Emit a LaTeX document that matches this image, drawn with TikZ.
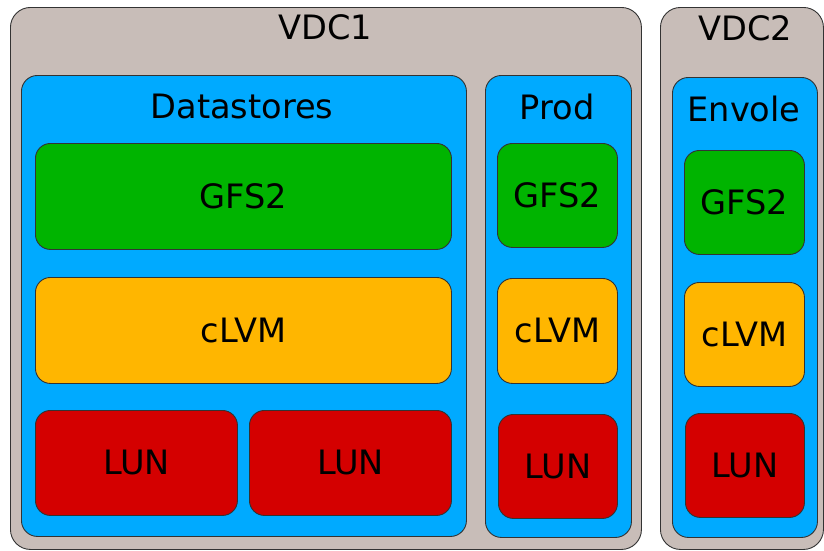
\documentclass[tikz,border=0pt]{standalone}
\usepackage{fontspec}
\setmainfont{DejaVu Sans}
\definecolor{vdcgray}{HTML}{C8BDB8}
\definecolor{dsblue}{HTML}{00AAFF}
\definecolor{gfsgreen}{HTML}{00B400}
\definecolor{lvmorange}{HTML}{FFB600}
\definecolor{lunred}{HTML}{D40000}
\definecolor{edge}{HTML}{333333}
\tikzset{
  boxbase/.style={draw=edge, line width=0.9pt, inner sep=0pt, anchor=north west},
  vdcbox/.style={boxbase, fill=vdcgray, rounded corners=20pt},
  dsbox/.style={boxbase, fill=dsblue, rounded corners=16pt},
  gfsbox/.style={boxbase, fill=gfsgreen, rounded corners=15pt},
  lvmbox/.style={boxbase, fill=lvmorange, rounded corners=15pt},
  lunbox/.style={boxbase, fill=lunred, rounded corners=15pt},
  lbl/.style={inner sep=0pt, font=\fontsize{33.6}{38}\selectfont, text=black}
}
\begin{document}
\begin{tikzpicture}[x=1pt, y=-1pt]
\useasboundingbox (0,0) rectangle (824,550);
% VDC1
\node[vdcbox, minimum width=631pt, minimum height=542pt] (vdc1) at (10,7) {};
\node[lbl] (vdc1-t) at (325,27) {VDC1};
% VDC2
\node[vdcbox, minimum width=163pt, minimum height=542pt] (vdc2) at (660,7) {};
\node[lbl] (vdc2-t) at (745,28) {VDC2};
% Datastores
\node[dsbox, minimum width=445pt, minimum height=461pt] (ds) at (21,75) {};
\node[lbl] (ds-t) at (242,106.5) {Datastores};
% Prod
\node[dsbox, minimum width=146pt, minimum height=462pt] (prod) at (485,75) {};
\node[lbl] (prod-t) at (557,107) {Prod};
% Envole
\node[dsbox, minimum width=145pt, minimum height=460pt] (env) at (672,77) {};
\node[lbl] (env-t) at (744,108.5) {Envole};
% Datastores content
\node[gfsbox, minimum width=416pt, minimum height=106pt] (dgfs) at (35,143) {};
\node[lbl] (dgfs-t) at (dgfs.center) {GFS2};
\node[lvmbox, minimum width=416pt, minimum height=106pt] (dlvm) at (35,277) {};
\node[lbl] (dlvm-t) at (dlvm.center) {cLVM};
\node[lunbox, minimum width=202pt, minimum height=105pt] (dlun1) at (35,410) {};
\node[lbl] (dlun1-t) at (dlun1.center) {LUN};
\node[lunbox, minimum width=202pt, minimum height=105pt] (dlun2) at (249,410) {};
\node[lbl] (dlun2-t) at (dlun2.center) {LUN};
% Prod content
\node[gfsbox, minimum width=120pt, minimum height=104pt] (pgfs) at (497,143) {};
\node[lbl] (pgfs-t) at (pgfs.center) {GFS2};
\node[lvmbox, minimum width=120pt, minimum height=105pt] (plvm) at (497,278) {};
\node[lbl] (plvm-t) at (plvm.center) {cLVM};
\node[lunbox, minimum width=119pt, minimum height=104pt] (plun) at (498,414) {};
\node[lbl] (plun-t) at (plun.center) {LUN};
% Envole content
\node[gfsbox, minimum width=120pt, minimum height=104pt] (egfs) at (684,150) {};
\node[lbl] (egfs-t) at (egfs.center) {GFS2};
\node[lvmbox, minimum width=120pt, minimum height=104pt] (elvm) at (684,282) {};
\node[lbl] (elvm-t) at (elvm.center) {cLVM};
\node[lunbox, minimum width=119pt, minimum height=104pt] (elun) at (685,413) {};
\node[lbl] (elun-t) at (elun.center) {LUN};
\end{tikzpicture}
\end{document}
